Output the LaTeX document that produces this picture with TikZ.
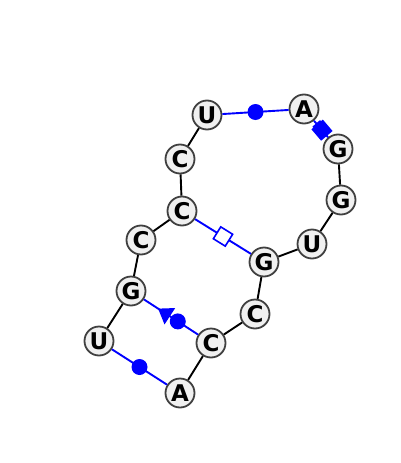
\documentclass[tikz,border=0pt]{standalone}
\usepackage{fontspec}
\setmainfont{DejaVu Sans}
\usetikzlibrary{shapes.geometric}
\definecolor{ntfill}{HTML}{F0F0F0}
\definecolor{ntborder}{HTML}{404040}
\begin{document}
\begin{tikzpicture}[x=1pt,y=-1pt,
  nt/.style={circle,draw=ntborder,fill=ntfill,line width=1.8pt,minimum size=29pt,inner sep=0pt,font=\fontsize{23}{23}\selectfont\bfseries},
  bb/.style={draw=black,line width=1.9pt},
  bp/.style={draw=blue,line width=1.9pt},
  dotm/.style={circle,fill=blue,inner sep=0pt,minimum size=16pt},
  sqm/.style={sloped,draw=blue,fill=white,line width=1.6pt,inner sep=0pt,minimum size=14pt},
  fsq/.style={sloped,fill=blue,inner sep=0pt},
  trim/.style={sloped,isosceles triangle,isosceles triangle apex angle=70,fill=blue,inner sep=0pt,minimum height=14pt,shape border rotate=180}]
\useasboundingbox (0,0) rectangle (400,463);
\node[nt] (n1) at (180,393) {A};
\node[nt] (n2) at (211,343) {C};
\node[nt] (n3) at (255,314) {C};
\node[nt] (n4) at (264,262) {G};
\node[nt] (n5) at (312,244) {U};
\node[nt] (n6) at (341,200) {G};
\node[nt] (n7) at (338,149) {G};
\node[nt] (n8) at (304,109) {A};
\node[nt] (n9) at (207,115) {U};
\node[nt] (n10) at (180,159) {C};
\node[nt] (n11) at (182,211) {C};
\node[nt] (n12) at (141,240) {C};
\node[nt] (n13) at (131,291) {G};
\node[nt] (n14) at (99,341) {U};
% backbone
\draw[bb] (n1) -- (n2);
\draw[bb] (n2) -- (n3);
\draw[bb] (n3) -- (n4);
\draw[bb] (n4) -- (n5);
\draw[bb] (n5) -- (n6);
\draw[bb] (n6) -- (n7);
\draw[bb] (n9) -- (n10);
\draw[bb] (n10) -- (n11);
\draw[bb] (n11) -- (n12);
\draw[bb] (n12) -- (n13);
\draw[bb] (n13) -- (n14);
% pairs
\draw[bp] (n14) -- node[dotm,midway] (m1) {} (n1);
\draw[bp] (n9) -- node[dotm,midway] (m2) {} (n8);
\draw[bp] (n11) -- node[sqm,midway] (m3) {} (n4);
\draw[bp] (n13) -- node[trim,pos=0.4] (m4) {} node[dotm,pos=0.625] (m5) {} (n2);
\draw[bp] (n8) -- node[fsq,pos=0.39,minimum width=10pt,minimum height=10pt] (m6) {} node[fsq,pos=0.57,minimum width=15pt,minimum height=15pt] (m7) {} (n7);
\end{tikzpicture}
\end{document}
